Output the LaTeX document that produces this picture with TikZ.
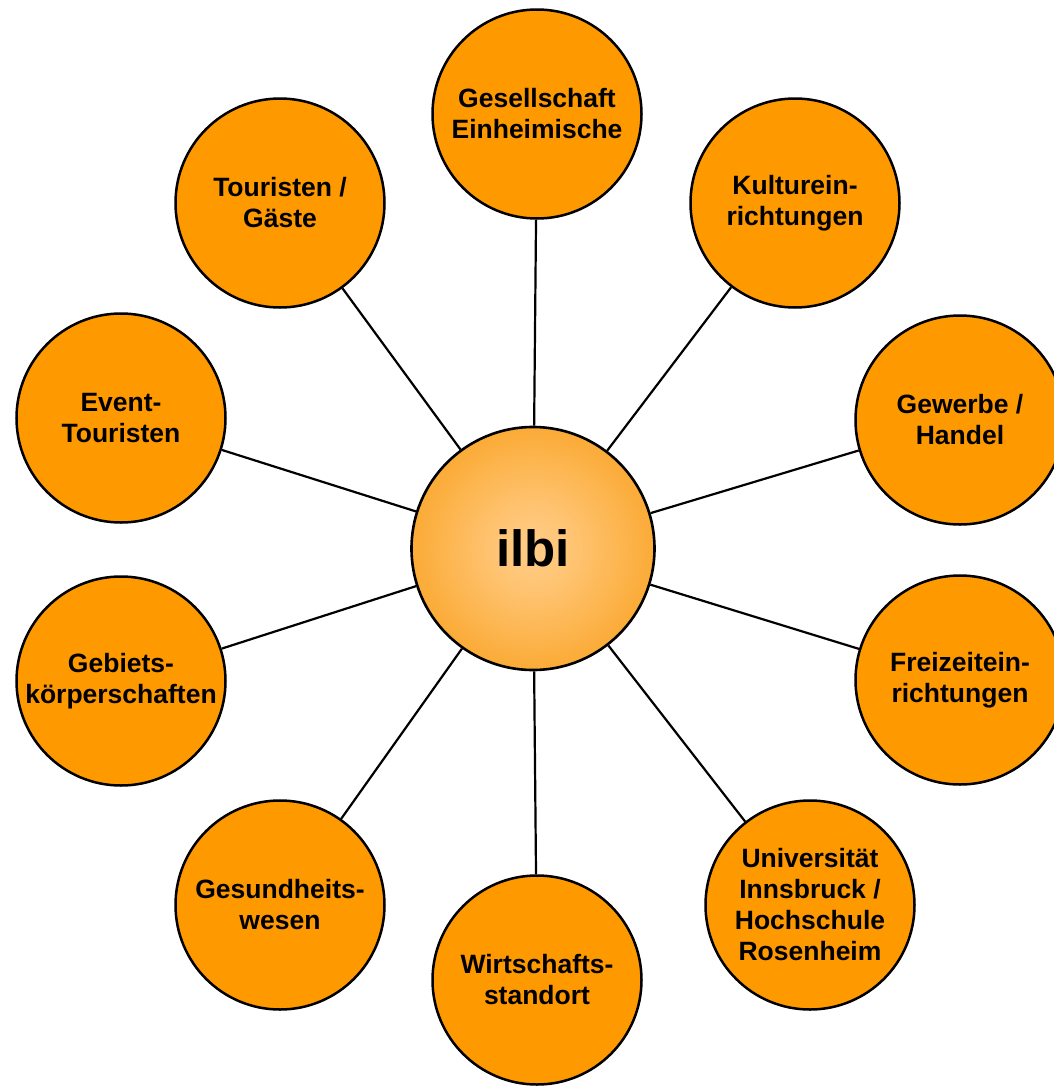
\documentclass[tikz,border=0pt]{standalone}
\usepackage{fontspec}
\setmainfont{Liberation Sans}
\definecolor{orng}{HTML}{FF9900}
\definecolor{lite}{HTML}{FFCC88}
\pgfdeclareradialshading{ilbishade}{\pgfpoint{0bp}{0bp}}{color(0bp)=(lite); color(8bp)=(lite!85!orng); color(40bp)=(orng!97!black); color(50bp)=(orng!93!black)}
\begin{document}
\begin{tikzpicture}[x=1pt,y=-1pt,
  sat/.style={circle, draw=black, line width=2.5pt, fill=orng, minimum size=209pt, inner sep=0pt, align=center, font=\fontsize{26.5}{31}\selectfont\bfseries},
  hub/.style={circle, draw=black, line width=2.6pt, shading=ilbishade, minimum size=243pt, inner sep=0pt, font=\fontsize{51}{56}\selectfont\bfseries},
  link/.style={draw=black, line width=2.2pt}]
\useasboundingbox (0,0) rectangle (1053,1087);
\node[hub] (c) at (533,548.5) {ilbi};
\node[sat] (g) at (537,114) {Gesellschaft\\Einheimische};
\node[sat] (k) at (795,203) {Kulturein-\\richtungen};
\node[sat] (gw) at (960,420) {Gewerbe /\\Handel};
\node[sat] (f) at (960,680) {Freizeitein-\\richtungen};
\node[sat] (u) at (810,905) {Universität\\Innsbruck /\\Hochschule\\Rosenheim};
\node[sat] (w) at (537,980) {Wirtschafts-\\standort};
\node[sat] (gh) at (280,905) {Gesundheits-\\wesen};
\node[sat] (gb) at (121,681) {Gebiets-\\körperschaften};
\node[sat] (e) at (121,418) {Event-\\Touristen};
\node[sat] (t) at (280,203) {Touristen /\\Gäste};
\foreach \n in {g,k,gw,f,u,w,gh,gb,e,t} \draw[link] (c) -- (\n);
\end{tikzpicture}
\end{document}
